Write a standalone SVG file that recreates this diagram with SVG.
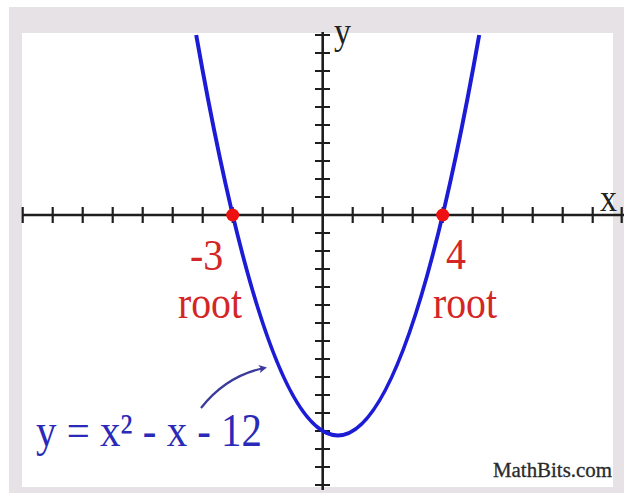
<svg xmlns="http://www.w3.org/2000/svg" width="624" height="493" viewBox="0 0 624 493">
<style>
.axis{stroke:#1e1e1e;stroke-width:2.6;fill:none}
.tick{stroke:#1e1e1e;stroke-width:2.2}
.lbl{font-family:"Liberation Serif","Times New Roman",serif;}
.red{fill:#d42626;font-size:40px}
.ax{fill:#222;font-size:34px}
</style>
<defs>
<marker id="ah" markerWidth="8" markerHeight="8" refX="5" refY="4" orient="auto" markerUnits="userSpaceOnUse">
<path d="M0,0 L8,4 L0,8 L2,4 Z" fill="#3a3a9c"/>
</marker>
</defs>
<g id="frame">
<rect x="9" y="7" width="615" height="486" fill="#e6e2e5"/>
<rect x="22" y="33" width="591" height="454" fill="#ffffff"/>
</g>
<g id="x-axis">
<line class="axis" x1="22" y1="215" x2="624" y2="215"/>
<path class="tick" d="M22.7,207v16M52.7,207v16M82.7,207v16M112.7,207v16M142.7,207v16M172.7,207v16M202.7,207v16M232.7,207v16M262.7,207v16M292.7,207v16M352.7,207v16M382.7,207v16M412.7,207v16M442.7,207v16M472.7,207v16M502.7,207v16M532.7,207v16M562.7,207v16M592.7,207v16M621.7,207v16"/>
<text class="lbl ax" transform="translate(600,211) scale(1,1.12)" font-size="32">x</text>
</g>
<g id="y-axis">
<line class="axis" x1="322.7" y1="32" x2="322.7" y2="490"/>
<path class="tick" d="M315,35h15M315,53h15M315,71h15M315,89h15M315,107h15M315,125h15M315,143h15M315,161h15M315,179h15M315,197h15M315,233h15M315,251h15M315,269h15M315,287h15M315,305h15M315,323h15M315,341h15M315,359h15M315,377h15M315,395h15M315,413h15M315,431h15M315,449h15M315,467h15M315,485h15"/>
<text class="lbl ax" transform="translate(334,44) scale(1,1.12)">y</text>
</g>
<g id="parabola">
<path d="M196.2,35 Q337.7,836 479.2,35" fill="none" stroke="#1c1cd6" stroke-width="4"/>
</g>
<g id="root-left">
<circle cx="232.7" cy="215" r="6.5" fill="#ee1111"/>
<text class="lbl red" transform="translate(190,270) scale(1,1.1)" font-size="35">-3</text>
<text class="lbl red" transform="translate(178,318) scale(1,1.17)" textLength="64" lengthAdjust="spacingAndGlyphs">root</text>
</g>
<g id="root-right">
<circle cx="442.7" cy="215" r="6.5" fill="#ee1111"/>
<text class="lbl red" transform="translate(446,269) scale(1,1.1)" font-size="35">4</text>
<text class="lbl red" transform="translate(433,318) scale(1,1.17)" textLength="64" lengthAdjust="spacingAndGlyphs">root</text>
</g>
<g id="equation">
<text class="lbl" transform="translate(36,446) scale(1,1.15)" font-size="40" fill="#2a2ab8" textLength="226" lengthAdjust="spacingAndGlyphs">y = x² - x - 12</text>
</g>
<g id="connectors">
<path d="M201,408 Q226,376 264,368" fill="none" stroke="#3a3a9c" stroke-width="2.2" marker-end="url(#ah)"/>
</g>
<g id="credit">
<text class="lbl" x="493" y="477" font-size="20" fill="#2a2a2a" stroke="#2a2a2a" stroke-width="0.3" textLength="119" lengthAdjust="spacingAndGlyphs">MathBits.com</text>
</g>
</svg>
